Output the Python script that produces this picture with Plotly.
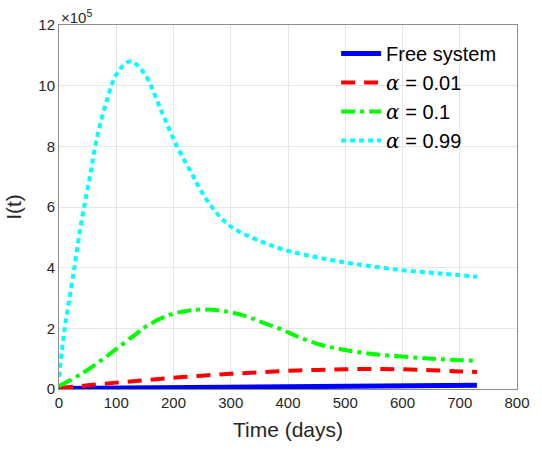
import plotly.graph_objects as go

# Values in units of 1e5 (axis shows ×10^5)
t_free = [0, 100, 200, 300, 400, 500, 600, 700, 730]
i_free = [0.02, 0.03, 0.04, 0.055, 0.07, 0.085, 0.1, 0.115, 0.12]

t_a001 = [0, 50, 100, 150, 200, 250, 300, 350, 400, 450, 500, 550, 600, 650, 700, 730]
i_a001 = [0.03, 0.12, 0.21, 0.29, 0.37, 0.44, 0.5, 0.55, 0.6, 0.63, 0.65, 0.66, 0.65, 0.62, 0.58, 0.56]

t_a01 = [0, 41, 76, 98, 135, 155, 194, 225, 255, 290, 323, 355, 388, 420, 458, 490, 517, 560, 606, 640, 664, 700, 730]
i_a01 = [0.1, 0.52, 0.98, 1.29, 1.82, 2.1, 2.45, 2.58, 2.62, 2.56, 2.42, 2.2, 1.97, 1.7, 1.45, 1.32, 1.23, 1.13, 1.06, 1.01, 0.98, 0.95, 0.93]

t_a099 = [0, 10, 24, 39, 53, 67, 84, 101, 124, 149, 178, 206, 234, 246, 274, 302, 342, 393, 456, 524, 603, 671, 730]
i_a099 = [0.4, 2.0, 3.65, 5.5, 6.9, 8.34, 9.54, 10.4, 10.8, 10.4, 9.2, 8.0, 7.03, 6.6, 5.83, 5.33, 4.95, 4.59, 4.32, 4.1, 3.91, 3.8, 3.7]

x_ticks = [0, 100, 200, 300, 400, 500, 600, 700, 800]
y_ticks = [0, 2, 4, 6, 8, 10, 12]

alpha = "<span style=\"font-family:'DejaVu Serif'\"><i>α</i></span>"

fig = go.Figure()
fig.add_trace(go.Scatter(x=t_free, y=i_free, mode="lines", name="Free system",
                         legendgroup="a", line=dict(color="#0000ff", width=5)))
fig.add_trace(go.Scatter(x=t_a001, y=i_a001, mode="lines", name=alpha + " = 0.01",
                         legendgroup="b", line=dict(color="#ff0000", width=4, dash="14px,9px", shape="spline")))
fig.add_trace(go.Scatter(x=t_a01, y=i_a01, mode="lines", name=alpha + " = 0.1",
                         legendgroup="c", line=dict(color="#00ff00", width=4, dash="14px,5px,4px,5px", shape="spline")))
fig.add_trace(go.Scatter(x=t_a099, y=i_a099, mode="lines", name=alpha + " = 0.99",
                         legendgroup="d", line=dict(color="#00ffff", width=4, dash="5px,4px", shape="spline")))

axis_common = dict(showgrid=True, gridcolor="#e6e6e6", gridwidth=1, showline=True,
                   linecolor="#8c8c8c", linewidth=1, mirror=True, ticks="outside",
                   ticklen=0, zeroline=False, tickfont=dict(family="Liberation Sans, Arial", size=15, color="#262626"))

fig.update_xaxes(range=[0, 800], tickvals=x_ticks, **axis_common,
                 title=dict(text="Time (days)", font=dict(family="Liberation Sans, Arial", size=21, color="#262626"), standoff=12))
fig.update_yaxes(range=[0, 12], tickvals=y_ticks, **axis_common,
                 title=dict(text="I(t)", font=dict(family="Liberation Sans, Arial", size=21, color="#262626"), standoff=10))

fig.add_annotation(x=0, y=1, xref="paper", yref="paper", xanchor="left", yanchor="bottom",
                   text="×10<sup>5</sup>", showarrow=False, yshift=-3,
                   font=dict(family="Liberation Sans, Arial", size=15, color="#262626"))

fig.update_layout(
    width=542, height=450, margin=dict(l=59, r=14, t=25, b=59),
    plot_bgcolor="white", paper_bgcolor="white",
    legend=dict(x=0.605, y=0.975, xanchor="left", yanchor="top", bgcolor="rgba(255,255,255,0)",
                font=dict(family="Liberation Sans, Arial", size=20, color="#000000"),
                tracegroupgap=0, itemwidth=40),
)

fig.write_html("out.html")
